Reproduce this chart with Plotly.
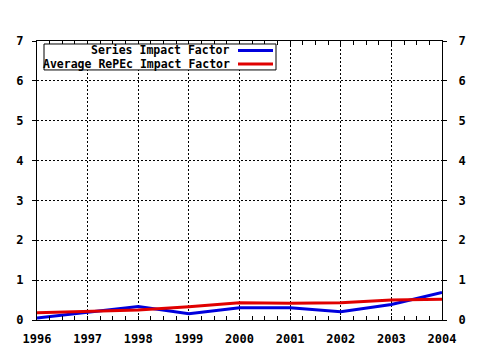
import plotly.graph_objects as go

years = [1996, 1997, 1998, 1999, 2000, 2001, 2002, 2003, 2004]
series_if = [0.05, 0.20, 0.34, 0.16, 0.31, 0.31, 0.21, 0.39, 0.69]
avg_repec_if = [0.18, 0.21, 0.25, 0.33, 0.43, 0.42, 0.43, 0.50, 0.52]
names = ["Series Impact Factor", "Average RePEc Impact Factor"]
colors = ["#0000dd", "#e00000"]

W, H = 480, 350
L, R, T, B = 37, 38, 41, 29.5
pw, ph = W - L - R, H - T - B

def px(x):
    return (x - L) / pw

def py(y):
    return (H - B - y) / ph

FONT = "DejaVu Sans Mono"

fig = go.Figure()
for vals, c in zip([series_if, avg_repec_if], colors):
    fig.add_trace(go.Scatter(x=years, y=vals, mode="lines",
                             line=dict(color=c, width=3), showlegend=False,
                             hoverinfo="skip"))
# invisible trace for the right axis
fig.add_trace(go.Scatter(x=years, y=avg_repec_if, mode="lines", yaxis="y2",
                         line=dict(width=0), opacity=0, showlegend=False,
                         hoverinfo="skip"))

axfont = dict(family=FONT, size=12, color="black", weight="bold")
GD = "2px,2px"
fig.update_layout(
    width=W, height=H, margin=dict(l=L, r=R, t=T, b=B, autoexpand=False),
    paper_bgcolor="white", plot_bgcolor="white",
    xaxis=dict(range=[1996, 2004], dtick=1, tick0=1996, showgrid=True,
               gridcolor="black", griddash=GD, gridwidth=1,
               showline=True, linecolor="black", linewidth=1, mirror="allticks",
               ticks="inside", ticklen=4, tickcolor="black",
               minor=dict(dtick=0.25, ticks="inside", ticklen=2, tickcolor="black", showgrid=False),
               tickfont=axfont, ticklabelstandoff=8, zeroline=False,
               automargin=False, fixedrange=True),
    yaxis=dict(range=[0, 7], dtick=1, showgrid=True, gridcolor="black",
               griddash=GD, gridwidth=1, showline=True, linecolor="black",
               linewidth=1, mirror=True, ticks="outside", ticklen=4,
               tickcolor="black", tickfont=axfont, ticklabelstandoff=6,
               zeroline=False, automargin=False),
    yaxis2=dict(range=[0, 7], dtick=1, overlaying="y", side="right",
                showgrid=False, ticks="outside", ticklen=4, tickcolor="black",
                tickfont=axfont, ticklabelstandoff=9, showline=False,
                zeroline=False, automargin=False),
)

# legend box
fig.add_shape(type="rect", xref="paper", yref="paper",
              x0=px(44), x1=px(276), y0=py(44), y1=py(70),
              line=dict(color="black", width=1), fillcolor="white")
legfont = dict(family=FONT, size=11.5, color="black", weight="bold")
for i, (n, c) in enumerate(zip(names, colors)):
    yc = 50.5 + i * 13.5
    fig.add_annotation(xref="paper", yref="paper", x=px(232), y=py(yc),
                       text=n, showarrow=False,
                       xanchor="right", yanchor="middle", font=legfont)
    fig.add_shape(type="line", xref="paper", yref="paper",
                  x0=px(238), x1=px(273), y0=py(yc), y1=py(yc),
                  line=dict(color=c, width=3))

fig.write_html("out.html")
